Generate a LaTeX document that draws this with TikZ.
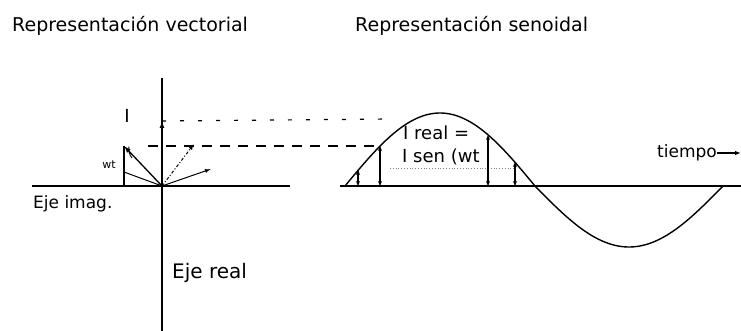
\documentclass[tikz,border=0pt]{standalone}
\usepackage{fontspec}
\setmainfont{DejaVu Sans}
\usetikzlibrary{arrows.meta}
\begin{document}
\begin{tikzpicture}[x=1pt,y=-1pt,
  ax/.style={line width=1.5pt},
  vec/.style={line width=1.3pt,-{Latex[length=7pt,width=5pt]}},
  thin vec/.style={line width=1pt,-{Latex[length=6pt,width=4pt]}},
  proj/.style={line width=1.1pt,{Stealth[length=5pt,width=4pt]}-{Stealth[length=5pt,width=4pt]}},
  lbl/.style={inner sep=0pt,anchor=base west},
  title/.style={font=\fontsize{19}{21}\selectfont,inner sep=0pt,anchor=base west}]
\useasboundingbox (0,0) rectangle (741,331);
% titles
\node[title] (t1) at (12,32) {Representación vectorial};
\node[title] (t2) at (355,32) {Representación senoidal};
% left axes
\coordinate (O) at (162,186);
\coordinate (hl) at (32,186);
\coordinate (hr) at (290,186);
\coordinate (vt) at (162,78);
\coordinate (vb) at (162,331);
\draw[ax] (hl) -- (hr);
\draw[ax] (vt) -- (vb);
\node[lbl,font=\fontsize{17}{19}\selectfont] (ei) at (33,208) {Eje imag.};
\node[lbl,font=\fontsize{20}{22}\selectfont] (er) at (172,278) {Eje real};
% vectors
\coordinate (I) at (162,121);
\coordinate (P) at (124,146);
\coordinate (Pb) at (124,186);
\coordinate (Q) at (124,172);
\coordinate (R) at (194,144);
\coordinate (S) at (211,169);
\draw[vec] (O) -- (I);
\draw[vec] (O) -- (P);
\draw[line width=1.1pt] (P) -- (Pb);
\draw[line width=1pt] (O) -- (Q);
\draw[thin vec,dash dot] (O) -- (R);
\draw[thin vec] (O) -- (S);
\draw[line width=0.9pt] (132,158) arc[start angle=140,end angle=190,radius=14];
\node[inner sep=0pt,font=\fontsize{11}{13}\selectfont] (wt) at (109,165) {wt};
\node[lbl,anchor=base,font=\fontsize{18}{20}\selectfont] (Il) at (127,123) {I};
% projection lines
\coordinate (pk) at (392,119);
\coordinate (sA) at (380,146);
\coordinate (Ih) at (148,146);
\draw[line width=1.2pt,dash pattern=on 4pt off 14pt] (I) -- (pk);
\draw[line width=1.3pt,dash pattern=on 10pt off 8pt] (Ih) -- (sA);
\draw[line width=0.8pt,dotted,gray] (390,168) -- (515,168);
% sinusoid
\coordinate (sb) at (340,186);
\coordinate (se) at (741,186);
\draw[ax] (sb) -- (se);
\draw[line width=1.4pt] plot[domain=0:180,samples=60] ({345+\x*1.05556},{186-73*sin(\x)});
\draw[line width=1.4pt] plot[domain=0:180,samples=60] ({535+\x*1.04444},{186+61*sin(\x)});
% ordinates
\draw[proj] (358,170) -- (358,186);
\draw[proj] (380,146) -- (380,186);
\draw[proj] (488,135) -- (488,186);
\draw[proj] (515,162) -- (515,186);
\node[lbl,font=\fontsize{18}{20}\selectfont] (re) at (403,140) {I real =};
\node[lbl,font=\fontsize{18}{20}\selectfont] (rs) at (402,163) {I sen (wt};
% tiempo
\node[lbl,anchor=base east,font=\fontsize{17}{19}\selectfont] (ti) at (717,158) {tiempo};
\coordinate (te) at (741,153);
\draw[line width=1.1pt,-{Latex[length=6pt]}] (ti.east |- te) -- (te);
\end{tikzpicture}
\end{document}
